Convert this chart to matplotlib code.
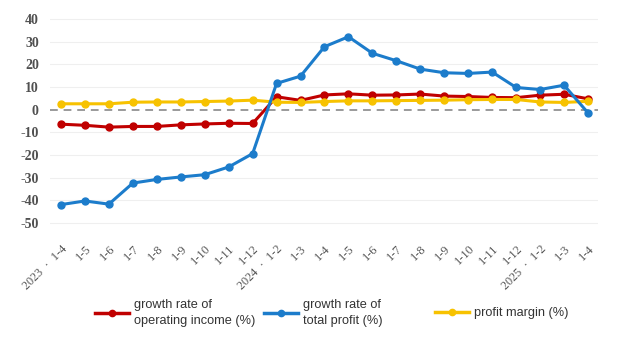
import numpy as np
import matplotlib.pyplot as plt
from matplotlib.lines import Line2D

# === Data ===
periods = ["2023  ·  1-4", "1-5", "1-6", "1-7", "1-8", "1-9", "1-10", "1-11", "1-12",
           "2024  ·  1-2", "1-3", "1-4", "1-5", "1-6", "1-7", "1-8", "1-9", "1-10", "1-11", "1-12",
           "2025  ·  1-2", "1-3", "1-4"]

operating_income = [-6.4, -6.9, -7.7, -7.4, -7.4, -6.7, -6.3, -6.0, -6.1,
                    5.7, 4.1, 6.5, 7.0, 6.4, 6.5, 6.9, 6.0, 5.8, 5.4, 5.3,
                    6.4, 6.8, 4.8]

total_profit = [-41.9, -40.3, -41.7, -32.4, -30.8, -29.7, -28.7, -25.3, -19.4,
                11.6, 14.8, 27.8, 32.2, 24.9, 21.6, 17.9, 16.3, 16.0, 16.6, 9.8,
                8.9, 10.8, -1.4]

profit_margin = [2.6, 2.6, 2.6, 3.3, 3.4, 3.4, 3.6, 3.8, 4.2,
                 3.3, 3.2, 3.6, 3.9, 3.9, 4.0, 4.1, 4.2, 4.4, 4.5, 4.5,
                 3.4, 3.2, 3.7]

yticks = [40, 30, 20, 10, 0, -10, -20, -30, -40, -50]

red = "#C00000"
blue = "#1C7CCB"
yellow = "#F7C200"

# === Plotting ===
fig = plt.figure(figsize=(6.2, 3.38), dpi=100)
ax = fig.add_axes([0.0806, 0.327, 0.884, 0.630])

x = np.arange(len(periods))

# light horizontal grid and dashed zero line
for v in yticks:
    if v != 0:
        ax.axhline(v, color="#efefef", lw=0.8, zorder=0)
ax.axhline(0, color="#9a9a9a", lw=1.4, ls=(0, (4, 3)), zorder=1)

ax.plot(x, operating_income, color=red, lw=2.2, marker="o", ms=5, zorder=3)
ax.plot(x, profit_margin, color=yellow, lw=2.2, marker="o", ms=5, zorder=4)
ax.plot(x, total_profit, color=blue, lw=2.2, marker="o", ms=5, zorder=5)

ax.set_xlim(-0.46, 22.42)
ax.set_ylim(-52, 42)
ax.set_yticks(yticks)
ax.set_yticklabels([str(v) for v in yticks], family="Liberation Serif",
                   fontsize=10, fontweight="bold", color="#505050")
ax.set_xticks(x)
ax.set_xticklabels(periods, family="Liberation Serif", fontsize=8.8,
                   color="#555555", rotation=45, ha="right", rotation_mode="anchor")
ax.tick_params(axis="both", length=0)
ax.tick_params(axis="y", pad=8)
ax.tick_params(axis="x", pad=11)
for s in ax.spines.values():
    s.set_visible(False)

# legend: three equally spaced entries under the chart
entries = [(red, "growth rate of\noperating income (%)", 89),
           (blue, "growth rate of\ntotal profit (%)", 258),
           (yellow, "profit margin (%)", 429)]
for color, label, px in entries:
    h = Line2D([], [], color=color, lw=2.5, marker="o", ms=4.5)
    leg = fig.legend([h], [label], loc="center left", bbox_to_anchor=(px / 620, 0.074),
                     frameon=False, borderpad=0, handlelength=2.6, handletextpad=0.45,
                     prop={"family": "Liberation Sans", "size": 9.2}, labelcolor="#333333")
    for t in leg.get_texts():
        t.set_linespacing(1.35)

plt.savefig("out.png", dpi=100)
